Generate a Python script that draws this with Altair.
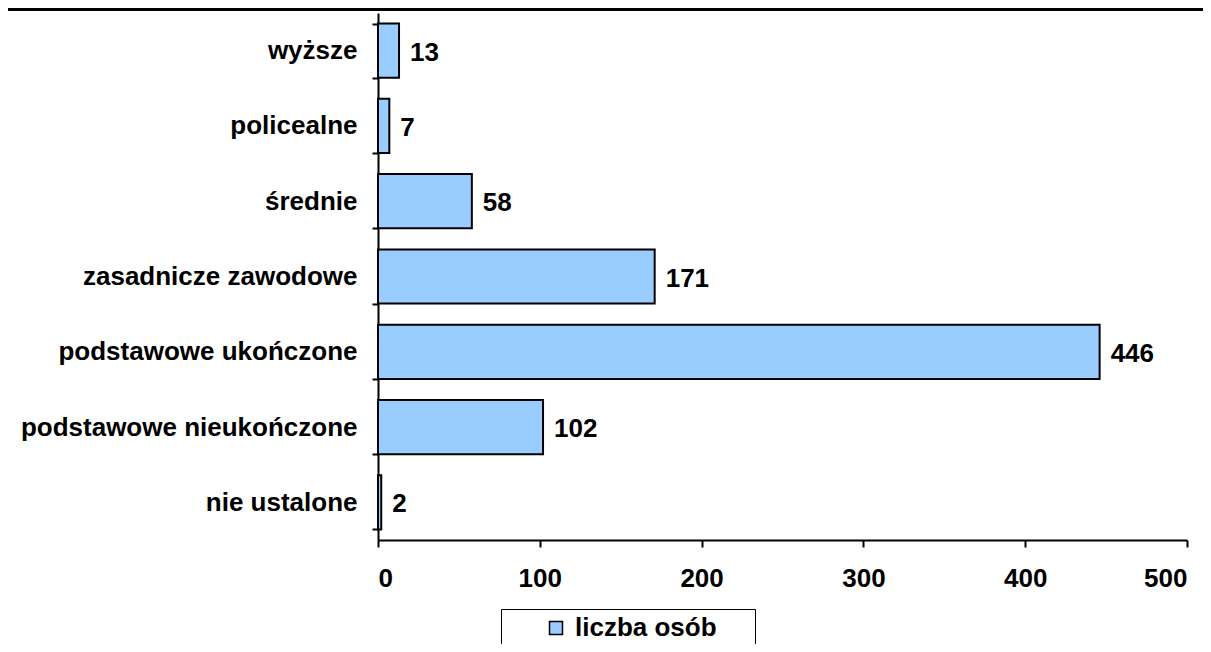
import altair as alt
import pandas as pd

categories = ["wyższe", "policealne", "średnie", "zasadnicze zawodowe",
              "podstawowe ukończone", "podstawowe nieukończone", "nie ustalone"]
values = [13, 7, 58, 171, 446, 102, 2]
series_name = "liczba osób"
x_ticks = [0, 100, 200, 300, 400, 500]

df = pd.DataFrame({"kat": categories, "val": values, "seria": [series_name] * len(values)})

FONT = "Liberation Sans"
FILL = "#99CCFF"
FS = 26

base = alt.Chart(df)

bars = base.mark_bar(stroke="black", strokeWidth=2).encode(
    y=alt.Y("kat:N", sort=categories,
            scale=alt.Scale(paddingInner=0.28, paddingOuter=0.14),
            axis=alt.Axis(title=None, tickBand="extent", tickSize=6, labelPadding=15,
                          labelFontSize=FS, labelFont=FONT, labelFontWeight="bold",
                          labelColor="black", domainColor="black", domainWidth=2,
                          tickColor="black", tickWidth=2, labelLimit=500)),
    x=alt.X("val:Q", scale=alt.Scale(domain=[0, 500], nice=False),
            axis=alt.Axis(title=None, values=x_ticks, grid=False, tickSize=7, labelPadding=18,
                          labelFontSize=FS, labelFont=FONT, labelFontWeight="bold",
                          labelColor="black", domainColor="black", domainWidth=2,
                          tickColor="black", tickWidth=2)),
    color=alt.Color("seria:N", scale=alt.Scale(domain=[series_name], range=[FILL]),
                    legend=alt.Legend(title="MM", titleOrient="right", titlePadding=0,
                                      titleFontSize=19, titleOpacity=0,
                                      orient="none", legendX=123, legendY=596,
                                      strokeColor="black", padding=6, symbolType="square",
                                      symbolSize=169, symbolStrokeColor="black",
                                      symbolStrokeWidth=1.5, symbolOffset=36, labelOffset=6,
                                      labelFontSize=FS, labelFont=FONT, labelFontWeight="bold",
                                      labelColor="black")),
)

labels = base.mark_text(align="left", baseline="middle", dx=11, dy=2, fontSize=FS,
                        font=FONT, fontWeight="bold", color="black").encode(
    y=alt.Y("kat:N", sort=categories),
    x=alt.X("val:Q"),
    text=alt.Text("val:Q"),
)

top_rule = alt.Chart(pd.DataFrame({"a": [0]})).mark_rule(color="black", strokeWidth=3).encode(
    x=alt.value(-370), x2=alt.value(825), y=alt.value(-3.5)
)

chart = alt.layer(bars, labels, top_rule).properties(
    width=809, height=527,
    autosize=alt.AutoSizeParams(type="none"),
    padding={"left": 370, "top": 5, "right": 16, "bottom": 104},
).configure_view(stroke=None)

chart.save("out.html", embed_options={"renderer": "svg", "actions": False})
